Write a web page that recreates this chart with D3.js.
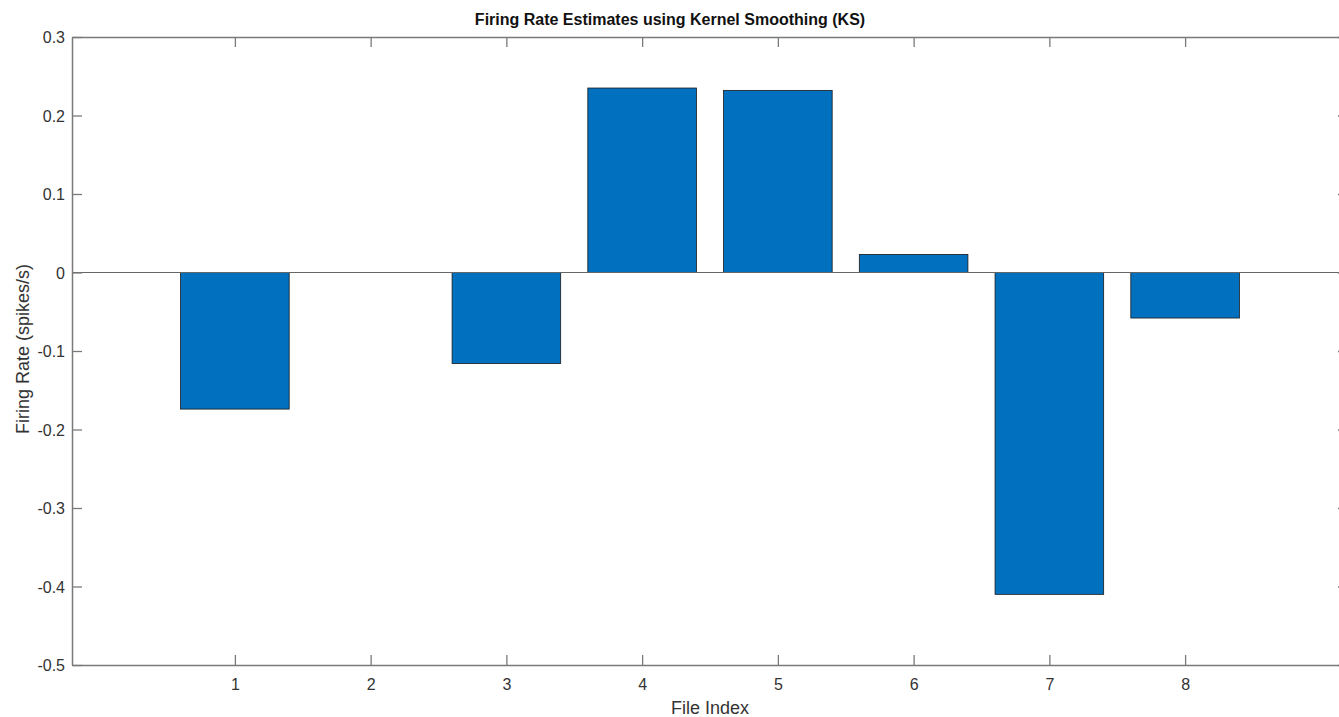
<!DOCTYPE html>
<html>
<head>
<meta charset="utf-8">
<script src="https://cdn.jsdelivr.net/npm/d3@7"></script>
<style>
  body { margin: 0; background: #fff; }
  text { font-family: "Liberation Sans", Arial, sans-serif; }
</style>
</head>
<body>
<div id="chart"></div>
<script>
// data
var fileIndex = [1, 2, 3, 4, 5, 6, 7, 8];
var firingRate = [-0.174, 0, -0.116, 0.235, 0.232, 0.023, -0.410, -0.058];
var yTicks = [0.3, 0.2, 0.1, 0, -0.1, -0.2, -0.3, -0.4, -0.5];

var W = 1339, H = 717;
var plotL = 72, plotR = 1348, plotT = 37, plotB = 665;

var svg = d3.select("#chart").append("svg")
    .attr("width", W)
    .attr("height", H);

var x = d3.scaleLinear().domain([-0.2, 9.2]).range([plotL, plotR]);
var y = d3.scaleLinear().domain([-0.5, 0.3]).range([plotB, plotT]);
var barW = x(0.8) - x(0);

var fmt = function(d) { return d === 0 ? "0" : d3.format(".1f")(d).replace("−", "-"); };

// bars
svg.selectAll(".bar")
    .data(fileIndex)
    .enter().append("rect")
    .attr("class", "bar")
    .attr("x", function(d) { return x(d) - barW / 2; })
    .attr("width", barW)
    .attr("y", function(d, i) { return y(Math.max(0, firingRate[i])); })
    .attr("height", function(d, i) { return Math.abs(y(firingRate[i]) - y(0)); })
    .attr("fill", "#0070bf")
    .attr("stroke", "#1a1a1a")
    .attr("stroke-width", 0.8);

// baseline at zero
svg.append("line")
    .attr("x1", plotL).attr("x2", plotR)
    .attr("y1", y(0)).attr("y2", y(0))
    .attr("stroke", "#666").attr("stroke-width", 1.2);

var axisColor = "#7a7a7a";

// axes, ticks pointing inwards (box on)
var gx = svg.append("g")
    .attr("transform", "translate(0," + plotB + ")")
    .call(d3.axisBottom(x).tickValues(fileIndex).tickSize(-10).tickPadding(14).tickSizeOuter(0));
var gxTop = svg.append("g")
    .attr("transform", "translate(0," + plotT + ")")
    .call(d3.axisTop(x).tickValues(fileIndex).tickSize(-10).tickFormat("").tickSizeOuter(0));
var gy = svg.append("g")
    .attr("transform", "translate(" + plotL + ",0)")
    .call(d3.axisLeft(y).tickValues(yTicks).tickFormat(fmt).tickSize(-10).tickPadding(7).tickSizeOuter(0));
var gyRight = svg.append("g")
    .attr("transform", "translate(" + plotR + ",0)")
    .call(d3.axisRight(y).tickValues(yTicks).tickFormat("").tickSize(-10).tickSizeOuter(0));

[gx, gxTop, gy, gyRight].forEach(function(g) {
    g.select(".domain").attr("stroke", axisColor).attr("stroke-width", 1.5);
    g.selectAll(".tick line").attr("stroke", axisColor).attr("stroke-width", 1.3);
    g.selectAll(".tick text")
        .attr("fill", "#333")
        .style("font-size", "16px")
        .style("font-family", "'Liberation Sans', Arial, sans-serif");
});
gy.selectAll(".tick text").attr("dy", "0.35em");

// title and labels
svg.append("text")
    .attr("x", 670).attr("y", 25)
    .attr("text-anchor", "middle")
    .style("font-size", "16px")
    .style("font-weight", "bold")
    .attr("fill", "#111")
    .text("Firing Rate Estimates using Kernel Smoothing (KS)");

svg.append("text")
    .attr("x", 710).attr("y", 714)
    .attr("text-anchor", "middle")
    .style("font-size", "18px")
    .attr("fill", "#333")
    .text("File Index");

svg.append("text")
    .attr("transform", "translate(29,349) rotate(-90)")
    .attr("text-anchor", "middle")
    .style("font-size", "18px")
    .attr("fill", "#333")
    .text("Firing Rate (spikes/s)");
</script>
</body>
</html>
